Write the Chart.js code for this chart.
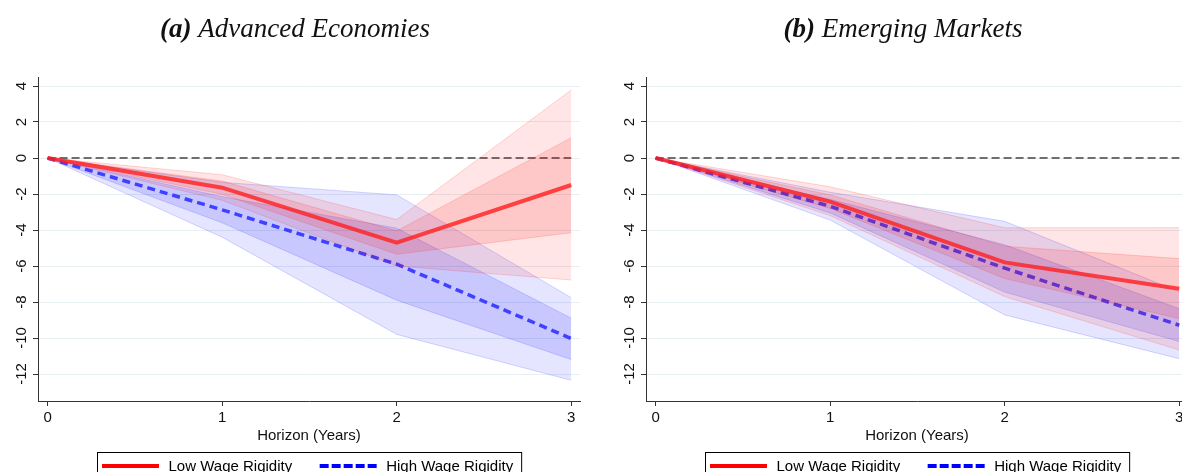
<!DOCTYPE html>
<html>
<head>
<meta charset="utf-8">
<script src="https://cdn.jsdelivr.net/npm/chart.js@4.4.1/dist/chart.umd.min.js"></script>
<style>
  html, body { margin: 0; padding: 0; background: #fff; overflow: hidden; width: 1182px; height: 472px; }
  .panel { position: absolute; top: 0; }
  #advPanel { left: 0; }
  #emgPanel { left: 608px; }
</style>
</head>
<body>
<div class="panel" id="advPanel"><canvas id="advChart" width="590" height="490"></canvas></div>
<div class="panel" id="emgPanel"><canvas id="emgChart" width="590" height="490"></canvas></div>
<script>
// horizon in years and axis ticks
const horizon = [0, 1, 2, 3];
const xTicks = [0, 1, 2, 3];
const yTicks = [4, 2, 0, -2, -4, -6, -8, -10, -12];
const zeroLine = [0, 0, 0, 0];
const legendLabels = ["Low Wage Rigidity", "High Wage Rigidity"];

// (a) advanced economies
const advLow = [0, -1.65, -4.7, -1.5];
const advLowInnerHi = [0, -1.28, -4.05, 1.13];
const advLowInnerLo = [0, -2.02, -5.35, -4.15];
const advLowOuterHi = [0, -0.93, -3.42, 3.78];
const advLowOuterLo = [0, -2.35, -6.0, -6.78];
const advHigh = [0, -2.88, -5.9, -10.03];
const advHighInnerHi = [0, -2.15, -3.9, -8.9];
const advHighInnerLo = [0, -3.6, -7.9, -11.2];
const advHighOuterHi = [0, -1.35, -2.05, -7.76];
const advHighOuterLo = [0, -4.4, -9.8, -12.35];

// (b) emerging markets
const emgLow = [0, -2.42, -5.8, -7.26];
const emgLowInnerHi = [0, -2.05, -4.9, -5.59];
const emgLowInnerLo = [0, -2.8, -6.7, -8.92];
const emgLowOuterHi = [0, -1.6, -3.88, -3.87];
const emgLowOuterLo = [0, -3.2, -7.7, -10.67];
const emgHigh = [0, -2.68, -6.12, -9.29];
const emgHighInnerHi = [0, -2.3, -4.82, -8.37];
const emgHighInnerLo = [0, -3.05, -7.45, -10.2];
const emgHighOuterHi = [0, -1.9, -3.52, -7.43];
const emgHighOuterLo = [0, -3.45, -8.72, -11.15];

const sansFont = '"Liberation Sans", Arial, sans-serif';

function pts(arr) {
    return horizon.map((h, i) => ({x: h, y: arr[i]}));
}

function band(hi, lo, rgb, alpha, order) {
    return [
        {data: pts(hi), fill: "+1", backgroundColor: `rgba(${rgb},${alpha})`,
         borderColor: `rgba(${rgb},0.16)`, borderWidth: 1, pointRadius: 0, order: order},
        {data: pts(lo), fill: false, borderColor: `rgba(${rgb},0.16)`, borderWidth: 1,
         pointRadius: 0, order: order}
    ];
}

const titlePlugin = {
    id: "panelTitle",
    afterDraw(chart) {
        const o = chart.options.plugins.panelTitle;
        const ctx = chart.ctx;
        ctx.save();
        const f1 = 'italic bold 27px "Liberation Serif", serif';
        const f2 = 'italic 27px "Liberation Serif", serif';
        ctx.font = f1;
        const w1 = ctx.measureText(o.letter).width;
        ctx.font = f2;
        const w2 = ctx.measureText(" " + o.name).width;
        let x = chart.width / 2 - (w1 + w2) / 2;
        ctx.fillStyle = "#111";
        ctx.textBaseline = "alphabetic";
        ctx.font = f1;
        ctx.fillText(o.letter, x, 37);
        ctx.font = f2;
        ctx.fillText(" " + o.name, x + w1, 37);
        ctx.restore();
    }
};

const yLabelPlugin = {
    id: "yLabels",
    afterDraw(chart) {
        const ctx = chart.ctx;
        const y = chart.scales.y;
        ctx.save();
        ctx.font = "15px " + sansFont;
        ctx.fillStyle = "#111";
        ctx.textAlign = "center";
        ctx.textBaseline = "middle";
        yTicks.forEach(v => {
            ctx.save();
            ctx.translate(y.left + 22, y.getPixelForValue(v));
            ctx.rotate(-Math.PI / 2);
            ctx.fillText(String(v), 0, 0);
            ctx.restore();
        });
        ctx.restore();
    }
};

const legendPlugin = {
    id: "boxLegend",
    afterDraw(chart) {
        const ctx = chart.ctx;
        const a = chart.chartArea;
        ctx.save();
        ctx.font = "15px " + sansFont;
        const sample = 57, gapText = 9.5, gapItem = 27.5, padL = 5, padR = 8;
        const w0 = ctx.measureText(legendLabels[0]).width;
        const w1 = ctx.measureText(legendLabels[1]).width;
        const total = padL + sample + gapText + w0 + gapItem + sample + gapText + w1 + padR;
        const left = Math.round((a.left + a.right) / 2 - total / 2);
        const top = Math.round(a.bottom + 51);
        const cy = a.bottom + 65;
        ctx.strokeStyle = "#000";
        ctx.lineWidth = 1;
        ctx.strokeRect(left + 0.5, top + 0.5, total, 30);
        let x = left + padL;
        // low rigidity sample
        ctx.lineWidth = 4;
        ctx.strokeStyle = "#ff0000";
        ctx.beginPath(); ctx.moveTo(x, cy); ctx.lineTo(x + sample, cy); ctx.stroke();
        x += sample + gapText;
        ctx.fillStyle = "#000";
        ctx.textBaseline = "middle";
        ctx.fillText(legendLabels[0], x, cy + 1);
        x += w0 + gapItem;
        // high rigidity sample
        ctx.strokeStyle = "#0000ff";
        ctx.setLineDash([9, 3]);
        ctx.beginPath(); ctx.moveTo(x, cy); ctx.lineTo(x + sample, cy); ctx.stroke();
        ctx.setLineDash([]);
        x += sample + gapText;
        ctx.fillText(legendLabels[1], x, cy + 1);
        ctx.restore();
    }
};

function makeChart(id, letter, name, s) {
    const datasets = [
        {data: pts(zeroLine), borderColor: "#6e6e6e", borderWidth: 2, borderDash: [8, 4],
         pointRadius: 0, fill: false, order: 10},
        ...band(s.highOuterHi, s.highOuterLo, "0,0,255", 0.1, 9),
        ...band(s.highInnerHi, s.highInnerLo, "0,0,255", 0.13, 8),
        {data: pts(s.high), borderColor: "rgba(40,40,255,0.85)", borderWidth: 3.5,
         borderDash: [8, 5], pointRadius: 0, fill: false, order: 7},
        ...band(s.lowOuterHi, s.lowOuterLo, "255,0,0", 0.1, 6),
        ...band(s.lowInnerHi, s.lowInnerLo, "255,0,0", 0.13, 5),
        {data: pts(s.low), borderColor: "rgba(255,30,30,0.8)", borderWidth: 4,
         pointRadius: 0, fill: false, order: 4}
    ];
    return new Chart(document.getElementById(id), {
        type: "line",
        data: {datasets: datasets},
        options: {
            responsive: false,
            animation: false,
            layout: {padding: {top: 77, right: 10, bottom: 45, left: 0}},
            elements: {line: {tension: 0}},
            plugins: {
                legend: {display: false},
                tooltip: {enabled: false},
                panelTitle: {letter: letter, name: name}
            },
            scales: {
                x: {
                    type: "linear",
                    min: -0.055,
                    max: 3.05,
                    afterBuildTicks: sc => { sc.ticks = xTicks.map(v => ({value: v})); },
                    grid: {drawOnChartArea: false, tickLength: 5, tickColor: "#333"},
                    border: {display: true, color: "#333", width: 1},
                    ticks: {color: "#111", font: {size: 15, family: sansFont}, padding: 3},
                    title: {display: true, text: "Horizon (Years)", color: "#111",
                            font: {size: 15, family: sansFont}, padding: {top: -3, bottom: 0}}
                },
                y: {
                    min: -13.5,
                    max: 4.5,
                    afterBuildTicks: sc => { sc.ticks = yTicks.map(v => ({value: v})); },
                    afterFit: sc => { sc.width = 38; },
                    grid: {color: "#e7eff2", lineWidth: 1, tickLength: 5, tickColor: "#333"},
                    border: {display: true, color: "#333", width: 1},
                    ticks: {display: false}
                }
            }
        },
        plugins: [titlePlugin, yLabelPlugin, legendPlugin]
    });
}

makeChart("advChart", "(a)", "Advanced Economies", {
    low: advLow, lowInnerHi: advLowInnerHi, lowInnerLo: advLowInnerLo,
    lowOuterHi: advLowOuterHi, lowOuterLo: advLowOuterLo,
    high: advHigh, highInnerHi: advHighInnerHi, highInnerLo: advHighInnerLo,
    highOuterHi: advHighOuterHi, highOuterLo: advHighOuterLo
});

makeChart("emgChart", "(b)", "Emerging Markets", {
    low: emgLow, lowInnerHi: emgLowInnerHi, lowInnerLo: emgLowInnerLo,
    lowOuterHi: emgLowOuterHi, lowOuterLo: emgLowOuterLo,
    high: emgHigh, highInnerHi: emgHighInnerHi, highInnerLo: emgHighInnerLo,
    highOuterHi: emgHighOuterHi, highOuterLo: emgHighOuterLo
});
</script>
</body>
</html>
